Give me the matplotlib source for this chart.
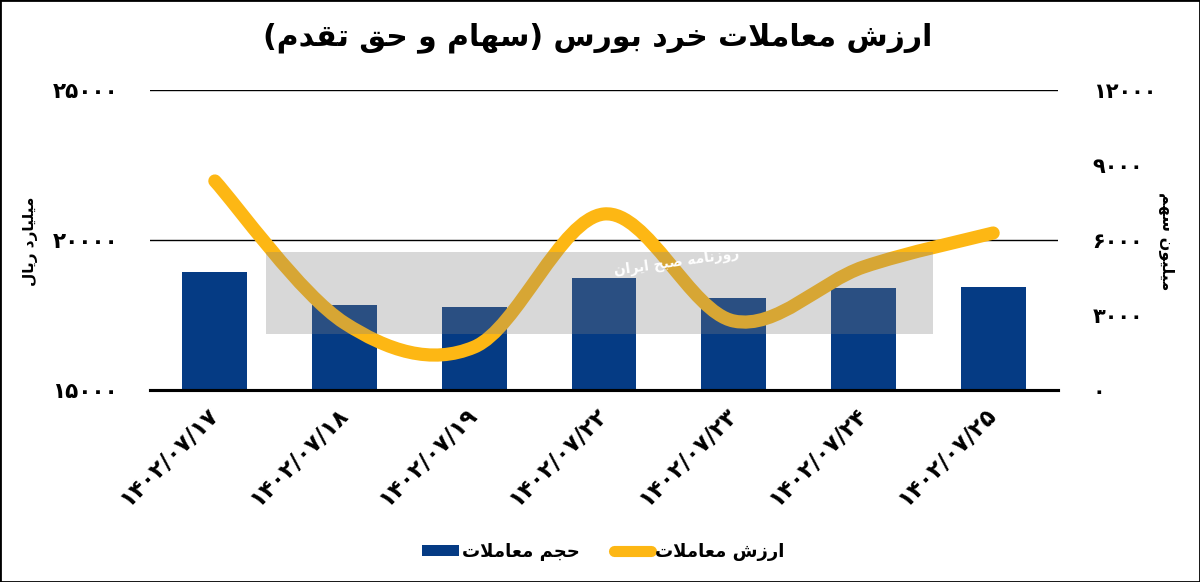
import matplotlib
matplotlib.use("Agg")
import matplotlib.pyplot as plt
from matplotlib.path import Path
from matplotlib.patches import PathPatch, Rectangle
from matplotlib.lines import Line2D
import numpy as np

# data
DATES = ["۱۴۰۲/۰۷/۱۷", "۱۴۰۲/۰۷/۱۸", "۱۴۰۲/۰۷/۱۹", "۱۴۰۲/۰۷/۲۲",
         "۱۴۰۲/۰۷/۲۳", "۱۴۰۲/۰۷/۲۴", "۱۴۰۲/۰۷/۲۵"]
VOLUME = [4720, 3400, 3320, 4480, 3680, 4080, 4120]          # million shares
VALUE = [21967, 17233, 16433, 20867, 17300, 19100, 20233]    # billion rial

LEFT_TICKS = [15000, 20000, 25000]
LEFT_LABELS = ["۱۵۰۰۰", "۲۰۰۰۰", "۲۵۰۰۰"]
RIGHT_TICKS = [0, 3000, 6000, 9000, 12000]
RIGHT_LABELS = ["۰", "۳۰۰۰", "۶۰۰۰", "۹۰۰۰", "۱۲۰۰۰"]

TITLE = "ارزش معاملات خرد بورس (سهام و حق تقدم)"
LEFT_NAME = "میلیارد ریال"
RIGHT_NAME = "میلیون سهم"
VOLUME_NAME = "حجم معاملات"
VALUE_NAME = "ارزش معاملات"
WATERMARK = "روزنامه صبح ایران"

NAVY = "#053B84"
YELLOW = "#FDB714"

# minimal arabic/persian shaping: matplotlib has no bidi or joining support
FORMS = {
    "ا": (0xFE8D, 0xFE8E), "د": (0xFEA9, 0xFEAA), "ر": (0xFEAD, 0xFEAE),
    "ز": (0xFEAF, 0xFEB0), "و": (0xFEED, 0xFEEE),
    "ب": (0xFE8F, 0xFE90, 0xFE91, 0xFE92), "ت": (0xFE95, 0xFE96, 0xFE97, 0xFE98),
    "ج": (0xFE9D, 0xFE9E, 0xFE9F, 0xFEA0), "ح": (0xFEA1, 0xFEA2, 0xFEA3, 0xFEA4),
    "خ": (0xFEA5, 0xFEA6, 0xFEA7, 0xFEA8), "س": (0xFEB1, 0xFEB2, 0xFEB3, 0xFEB4),
    "ش": (0xFEB5, 0xFEB6, 0xFEB7, 0xFEB8), "ص": (0xFEB9, 0xFEBA, 0xFEBB, 0xFEBC),
    "ع": (0xFEC9, 0xFECA, 0xFECB, 0xFECC), "ق": (0xFED5, 0xFED6, 0xFED7, 0xFED8),
    "ل": (0xFEDD, 0xFEDE, 0xFEDF, 0xFEE0), "م": (0xFEE1, 0xFEE2, 0xFEE3, 0xFEE4),
    "ن": (0xFEE5, 0xFEE6, 0xFEE7, 0xFEE8), "ه": (0xFEE9, 0xFEEA, 0xFEEB, 0xFEEC),
    "ی": (0xFBFC, 0xFBFD, 0xFBFE, 0xFBFF),
}
MIRROR = {"(": ")", ")": "("}


def shape(text: str) -> str:
    out = []
    i = 0
    n = len(text)
    while i < n:
        c = text[i]
        prev = i > 0 and len(FORMS.get(text[i - 1], ())) == 4
        if c == "ل" and i + 1 < n and text[i + 1] == "ا":
            out.append(chr(0xFEFC if prev else 0xFEFB))
            i += 2
            continue
        if c in FORMS:
            f = FORMS[c]
            nxt = len(f) == 4 and i + 1 < n and text[i + 1] in FORMS
            if prev and nxt:
                out.append(chr(f[3]))
            elif prev:
                out.append(chr(f[1]))
            elif nxt:
                out.append(chr(f[2]))
            else:
                out.append(chr(f[0]))
        else:
            out.append(MIRROR.get(c, c))
        i += 1
    return "".join(reversed(out))


def smooth_path(x, y) -> Path:
    pts = np.column_stack([x, y]).astype(float)
    verts = [pts[0]]
    codes = [Path.MOVETO]
    for i in range(len(pts) - 1):
        p0 = pts[i - 1] if i > 0 else pts[i]
        p1, p2 = pts[i], pts[i + 1]
        p3 = pts[i + 2] if i + 2 < len(pts) else pts[i + 1]
        verts += [p1 + (p2 - p0) / 6, p2 - (p3 - p1) / 6, p2]
        codes += [Path.CURVE4] * 3
    return Path(verts, codes)


plt.rcParams["font.family"] = ["DejaVu Sans"]
plt.rcParams["font.weight"] = "bold"

fig = plt.figure(figsize=(12, 5.82), dpi=100)
ax1 = fig.add_axes([150 / 1200, 1 - 390 / 582, 908 / 1200, 300 / 582])
ax2 = ax1.twinx()
ax1.set_zorder(ax2.get_zorder() + 1)
ax1.patch.set_visible(False)

x = np.arange(len(DATES))
ax2.bar(x, VOLUME, width=0.5, color=NAVY, zorder=2)
ax1.add_patch(PathPatch(smooth_path(x, VALUE), fill=False, edgecolor=YELLOW,
                        lw=9.5, capstyle="round", joinstyle="round", zorder=3))

ax1.set_xlim(-0.5, len(DATES) - 0.5)
ax1.set_ylim(15000, 25000)
ax2.set_ylim(0, 12000)

ax1.set_yticks(LEFT_TICKS)
ax1.set_yticklabels(LEFT_LABELS, fontsize=15.5, fontweight="bold")
ax2.set_yticks(RIGHT_TICKS)
ax2.set_yticklabels(RIGHT_LABELS, fontsize=15, fontweight="bold")
ax1.tick_params(axis="y", length=0, pad=23)
ax2.tick_params(axis="y", length=0, pad=25)

ax1.set_xticks(x)
ax1.set_xticklabels(DATES, rotation=45, ha="right", va="center",
                    rotation_mode="anchor", fontsize=16.5, fontweight="bold")
ax1.tick_params(axis="x", length=0, pad=15)

ax1.yaxis.grid(True, color="black", lw=1)
for a in (ax1, ax2):
    for side in ("top", "left", "right"):
        a.spines[side].set_visible(False)
    a.spines["bottom"].set_linewidth(2.2)
    a.spines["bottom"].set_color("black")

fig.text(30 / 1200, 1 - 241 / 582, shape(LEFT_NAME), rotation=90, ha="center",
         va="center", fontsize=11, fontweight="bold")
fig.text(1166 / 1200, 1 - 241 / 582, shape(RIGHT_NAME), rotation=-90, ha="center",
         va="center", fontsize=11.5, fontweight="bold")
fig.text(598 / 1200, 1 - 38 / 582, shape(TITLE), ha="center", va="center",
         fontsize=21.5, fontweight="bold")

# watermark band
fig.add_artist(Rectangle((266 / 1200, 1 - 334 / 582), 667 / 1200, 82 / 582,
                         transform=fig.transFigure, facecolor="#808080",
                         edgecolor="none", alpha=0.3, zorder=5))
fig.text(677 / 1200, 1 - 262 / 582, shape(WATERMARK), rotation=8, ha="center",
         va="center", fontsize=10, color="white", zorder=6)

handles = [Rectangle((0, 0), 1, 1, facecolor=NAVY),
           Line2D([0], [0], color=YELLOW, lw=8, solid_capstyle="round")]
fig.legend(handles, [shape(VOLUME_NAME), shape(VALUE_NAME)], loc="center",
           bbox_to_anchor=(603 / 1200, 1 - 552 / 582), ncol=2, frameon=False,
           fontsize=13, handlelength=2.05, handleheight=0.6,
           columnspacing=1.9, handletextpad=0.2)

fig.add_artist(Rectangle((0, 0), 1, 1, transform=fig.transFigure, fill=False,
                         edgecolor="black", lw=2, zorder=10))

fig.savefig("out.png", dpi=100)
